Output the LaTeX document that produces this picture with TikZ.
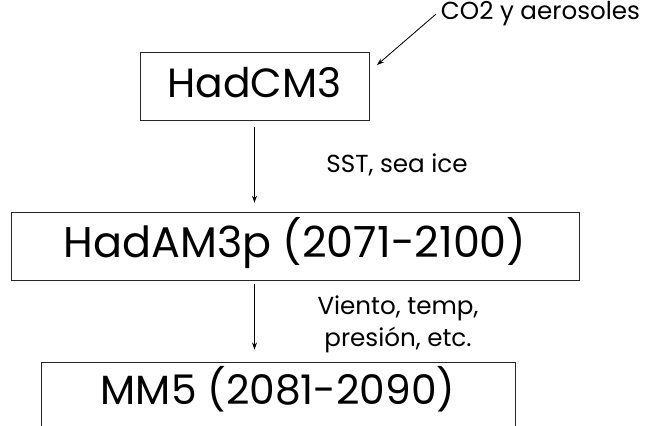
\documentclass[tikz,border=0pt]{standalone}
\usepackage{fontspec}
\setmainfont{Poppins}
\usetikzlibrary{arrows.meta}

\begin{document}
\begin{tikzpicture}[
    x=0.025cm, y=-0.025cm,
    every node/.style={font=\fontsize{17.5}{22.8}\selectfont},
    model/.style={
        draw=black!85,
        line width=0.6pt,
        anchor=base,
        inner sep=0pt,
        text height=1.14cm,
        text depth=0.55cm,
        font=\fontsize{29}{32}\selectfont
    },
    arr/.style={-{Stealth[length=5pt,width=3.5pt]}, line width=0.6pt}
]
    \useasboundingbox (0,0) rectangle (649,426);
    \clip (0,0) rectangle (649,426);

    % GCM
    \node[model, minimum width=5.725cm] (hadcm) at (254.5,98) {HadCM3};

    % atmosphere model
    \node[model, minimum width=14.2cm, text height=1.125cm, text depth=0.575cm,
        font=\fontsize{30.5}{34}\selectfont] (hadam) at (295,257) {HadAM3p (2071-2100)};

    % regional model (cut at the bottom)
    \node[model, minimum width=11.85cm, text height=1.05cm, text depth=0.9cm] (mm5) at (278,404) {MM5 (2081-2090)};

    % forcings
    \node[anchor=base east] (co2) at (645,20) {CO2 y aerosoles};
    \coordinate (co2tip) at (377,65);
    \draw[arr] (co2.west) -- (co2tip);

    \node[anchor=base] (sst) at (397,173) {SST, sea ice};
    \node[align=center] (vars) at (398,324) {Viento, temp,\\presión, etc.};

    % Arrows
    \draw[arr, shorten <=0.17cm, shorten >=0.22cm] (hadcm.south) -- (hadam.north -| hadcm.south);
    \draw[arr, shorten <=0.08cm, shorten >=0.3cm] (hadam.south -| hadcm.south) -- (mm5.north -| hadcm.south);

\end{tikzpicture}
\end{document}
